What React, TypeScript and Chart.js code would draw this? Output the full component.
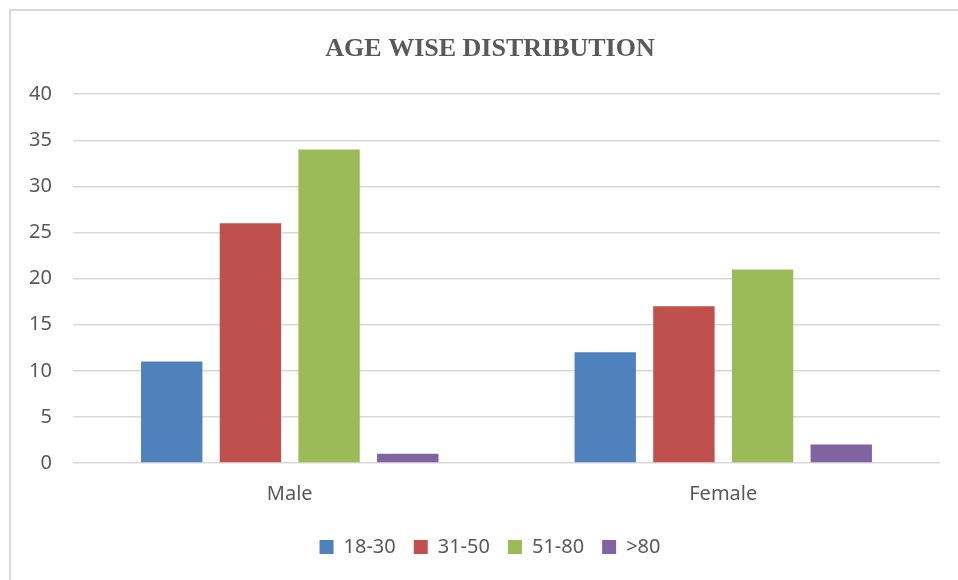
import React, { useEffect, useRef } from "react";
import { Chart, registerables } from "chart.js";

Chart.register(...registerables);

const categories = ["Male", "Female"];
const seriesNames = ["18-30", "31-50", "51-80", ">80"];
const age18to30 = [11, 12];
const age31to50 = [26, 17];
const age51to80 = [34, 21];
const ageOver80 = [1, 2];
const seriesColors = ["#4F81BD", "#C0504D", "#9BBB59", "#8064A2"];

const TEXT = "#595959";
const FONT = "'Noto Sans', 'Open Sans', sans-serif";

export default function App() {
  const ref = useRef<HTMLCanvasElement | null>(null);

  useEffect(() => {
    if (!ref.current) return;
    const values = [age18to30, age31to50, age51to80, ageOver80];
    const chart = new Chart(ref.current, {
      type: "bar",
      data: {
        labels: categories,
        datasets: seriesNames.map((name, i) => ({
          label: name,
          data: values[i],
          backgroundColor: seriesColors[i],
          borderWidth: 0,
          categoryPercentage: 0.726,
          barPercentage: 0.78,
        })),
      },
      options: {
        animation: false,
        responsive: false,
        maintainAspectRatio: false,
        layout: { padding: { left: 22, right: 0, top: 0, bottom: 13 } },
        plugins: {
          title: {
            display: true,
            text: "AGE WISE DISTRIBUTION",
            color: TEXT,
            font: { family: "'Liberation Serif', 'Times New Roman', serif", size: 26, weight: "bold" },
            padding: { top: 34, bottom: 29 },
          },
          legend: {
            position: "bottom",
            labels: {
              color: TEXT,
              font: { family: FONT, size: 20 },
              boxWidth: 14,
              boxHeight: 14,
              padding: 18,
            },
          },
          tooltip: { enabled: false },
        },
        scales: {
          x: {
            afterFit: (s: any) => {
              s.height = 56;
            },
            grid: { display: false, drawTicks: false },
            border: { display: false },
            ticks: { color: TEXT, font: { family: FONT, size: 20 }, padding: 19 },
          },
          y: {
            min: 0,
            max: 40,
            afterFit: (s: any) => {
              s.width = 51;
            },
            ticks: {
              stepSize: 5,
              color: TEXT,
              font: { family: FONT, size: 20 },
              padding: 21,
            },
            grid: { color: "#D9D9D9", lineWidth: 1.5, drawTicks: false },
            border: { display: false },
          },
          yRight: {
            type: "linear",
            position: "right",
            display: true,
            afterFit: (s: any) => {
              s.width = 18;
            },
            ticks: { display: false },
            grid: { display: false, drawTicks: false },
            border: { display: false },
          },
        },
      },
    });
    return () => chart.destroy();
  }, []);

  return (
    <div style={{ position: "absolute", left: 0, top: 0, width: 958, height: 580, background: "#fff" }}>
      <div
        style={{
          position: "absolute",
          left: 9,
          top: 9,
          width: 958,
          height: 580,
          borderLeft: "2px solid #D9D9D9",
          borderTop: "2px solid #D9D9D9",
        }}
      />
      <canvas ref={ref} width={958} height={580} style={{ position: "absolute", left: 0, top: 0 }} />
    </div>
  );
}
